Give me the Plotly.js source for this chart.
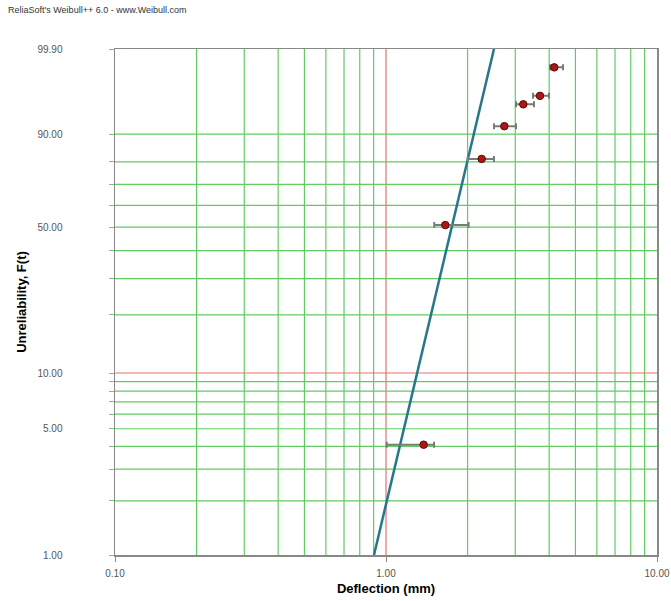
<!DOCTYPE html>
<html>
<head>
<meta charset="utf-8">
<script src="https://cdn.plot.ly/plotly-3.0.1.min.js"></script>
<style>html,body{margin:0;padding:0;background:#fff;}#chart{width:671px;height:601px;}</style>
</head>
<body>
<div id="chart"></div>
<script>
// Data
const deflection    = [1.377, 1.655, 2.255, 2.733, 3.211, 3.70, 4.178];
const unreliability = [4.09, 50.9, 81.2, 92.2, 96.6, 97.7, 99.57];
const lowerBound    = [1.006, 1.507, 2.002, 2.503, 3.018, 3.486, 4.03];
const upperBound    = [1.504, 2.018, 2.503, 3.018, 3.517, 3.996, 4.50];
const fitX = [0.903, 2.503];
const fitF = [1.0, 99.9];

const yGridVals   = [1,2,3,4,5,6,7,8,9,10,20,30,40,50,60,70,80,90,99.9];
const yLabelVals  = [1,5,10,50,90,99.9];
const yLabelTexts = ['1.00','5.00','10.00','50.00','90.00','99.90'];
const yRedVals    = [10];
const xGridVals   = [0.1,0.2,0.3,0.4,0.5,0.6,0.7,0.8,0.9,1,2,3,4,5,6,7,8,9,10];
const xLabelVals  = [0.1,1,10];
const xLabelTexts = ['0.10','1.00','10.00'];
const xRedVals    = [1];

// Weibull probability scale
const wz = F => Math.log(-Math.log(1 - F/100));

const yTickText = yGridVals.map(v => { const i = yLabelVals.indexOf(v); return i >= 0 ? yLabelTexts[i] : ''; });

const green = '#62cc62';
const red = '#e87070';

const shapes = [];
xGridVals.forEach(v => {
  if (v === 0.1 || v === 10) return;
  shapes.push({type: 'line', xref: 'x', yref: 'paper', x0: v, x1: v, y0: 0, y1: 1, layer: 'below',
    line: {color: xRedVals.includes(v) ? red : green, width: 1.2}});
});
yGridVals.forEach(v => {
  if (v === 1 || v === 99.9) return;
  shapes.push({type: 'line', xref: 'paper', yref: 'y', x0: 0, x1: 1, y0: wz(v), y1: wz(v), layer: 'below',
    line: {color: yRedVals.includes(v) ? red : green, width: 1.2}});
});

const traces = [
  {
    x: fitX, y: fitF.map(wz), mode: 'lines', type: 'scatter',
    line: {color: '#24788a', width: 2.5}, hoverinfo: 'skip', showlegend: false
  },
  {
    x: deflection, y: unreliability.map(wz), mode: 'markers', type: 'scatter',
    marker: {color: '#b01515', size: 7.5, line: {color: '#5a0a0a', width: 1}},
    error_x: {
      type: 'data', symmetric: false,
      array: upperBound.map((u, i) => u - deflection[i]),
      arrayminus: lowerBound.map((l, i) => deflection[i] - l),
      color: '#7a7a7a', thickness: 2, width: 3
    },
    showlegend: false
  }
];

const layout = {
  width: 671, height: 601,
  margin: {l: 115, r: 14, t: 49, b: 46},
  paper_bgcolor: '#ffffff', plot_bgcolor: '#ffffff',
  font: {family: '"Liberation Sans", Arial, sans-serif', color: '#555'},
  title: {
    text: "ReliaSoft's Weibull++ 6.0 - www.Weibull.com",
    font: {size: 9, color: '#333', family: '"Liberation Sans", Arial, sans-serif'},
    xref: 'container', yref: 'container', x: 0.012, xanchor: 'left', y: 0.983, yanchor: 'middle'
  },
  xaxis: {
    type: 'log', range: [-1, 1],
    tickmode: 'array', tickvals: xLabelVals, ticktext: xLabelTexts,
    showgrid: false,
    showline: true, linecolor: '#888', linewidth: 1.5, mirror: true,
    ticks: 'outside', ticklen: 5, tickcolor: '#888',
    ticklabelstandoff: 3,
    tickfont: {size: 10, color: '#555'},
    zeroline: false,
    title: {text: 'Deflection (mm)', font: {size: 13, color: '#000', family: '"Liberation Sans", Arial, sans-serif', weight: 'bold'}, standoff: 6}
  },
  yaxis: {
    range: [wz(1), wz(99.9)],
    tickmode: 'array', tickvals: yGridVals.map(wz), ticktext: yTickText,
    showgrid: false,
    showline: true, linecolor: '#888', linewidth: 1.5, mirror: true,
    ticks: 'outside', ticklen: 5, tickcolor: '#7ac47a',
    ticklabelstandoff: 44,
    tickfont: {size: 10, color: '#555'},
    zeroline: false,
    title: {text: 'Unreliability, F(t)', font: {size: 13, color: '#000', family: '"Liberation Sans", Arial, sans-serif', weight: 'bold'}, standoff: 8}
  },
  shapes: shapes
};

Plotly.newPlot('chart', traces, layout, {displayModeBar: false, staticPlot: true});
</script>
</body>
</html>
